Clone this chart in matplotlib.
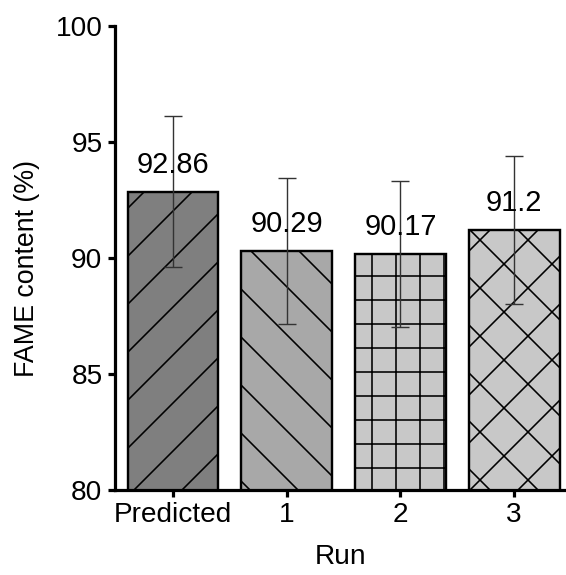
import matplotlib
matplotlib.use('Agg')
import matplotlib.pyplot as plt

# FAME content per run, with the standard deviation of each
runs = ["Predicted", "1", "2", "3"]
fame = [92.86, 90.29, 90.17, 91.2]
fame_err = [3.25, 3.15, 3.15, 3.18]
value_labels = ["92.86", "90.29", "90.17", "91.2"]

fills = ["#7f7f7f", "#a8a8a8", "#c8c8c8", "#c8c8c8"]
hatches = ["/", "\\", "+", "x"]

DPI = 144
plt.rcParams['font.family'] = ['Liberation Sans', 'DejaVu Sans']
plt.rcParams['hatch.linewidth'] = 0.8

fig = plt.figure(figsize=(566 / DPI, 575 / DPI), dpi=DPI)
ax = fig.add_axes([0.204, 0.1478, 0.796, 0.807])

x = list(range(len(runs)))
bars = ax.bar(x, fame, width=0.8, color=fills, edgecolor="black",
              linewidth=1.2, hatch=hatches, zorder=2)
ax.errorbar(x, fame, yerr=fame_err, fmt="none", ecolor="#333333",
            elinewidth=0.7, capsize=4.7, capthick=0.7, zorder=3)

for xi, val, lab in zip(x, fame, value_labels):
    ax.annotate(lab, (xi, val), xytext=(0, 9.5), textcoords="offset points",
                ha="center", va="baseline", fontsize=14.5, zorder=4)

ax.set_ylim(80, 100)
ax.set_xlim(-0.506, 3.456)
ax.set_yticks([80, 85, 90, 95, 100])
ax.set_xticks(x)
ax.set_xticklabels(runs)

for side in ("top", "right"):
    ax.spines[side].set_visible(False)
for side in ("left", "bottom"):
    ax.spines[side].set_linewidth(1.6)

ax.tick_params(axis="both", direction="out", length=3.5, width=1.6,
               labelsize=14)
ax.tick_params(axis="y", pad=3)
ax.tick_params(axis="x", pad=2.5)

ax.set_ylabel("FAME content (%)", fontsize=13.4)
ax.yaxis.set_label_coords(-0.168, 0.477)
ax.set_xlabel("Run", fontsize=14, labelpad=8)

fig.savefig("out.png", dpi=DPI)
